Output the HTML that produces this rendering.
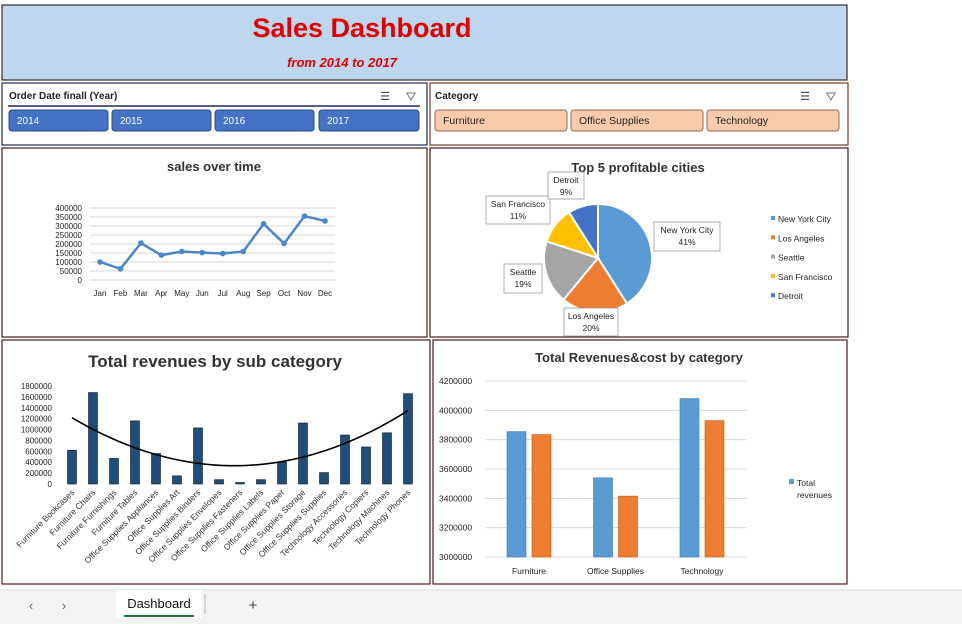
<!DOCTYPE html>
<html><head><meta charset="utf-8"><style>
html,body{margin:0;padding:0;background:#fff;}
svg{display:block;font-family:"Liberation Sans",sans-serif;}
</style></head><body>
<svg id="dash" width="962" height="624" viewBox="0 0 962 624" xmlns="http://www.w3.org/2000/svg">
<rect x="0" y="0" width="962" height="624" fill="#fff"/>
<!-- header -->
<g>
<rect x="2" y="5" width="845" height="75" fill="#BDD7EE" stroke="#3a2a2a" stroke-width="1.2"/>
<text x="362" y="37" text-anchor="middle" font-size="27" font-weight="bold" fill="#E00000">Sales Dashboard</text>
<text x="342" y="67" text-anchor="middle" font-size="13" font-weight="bold" font-style="italic" fill="#E00000">from 2014 to 2017</text>
</g>
<!-- year slicer -->
<g>
<rect x="2" y="83" width="425" height="62" fill="#fff" stroke="#1f2a5a" stroke-width="1.2"/>
<text x="9" y="99" font-size="10" font-weight="bold" fill="#222">Order Date finall (Year)</text>
<line x1="8" y1="106" x2="420" y2="106" stroke="#1f2a5a" stroke-width="1.5"/>
<text x="385" y="100" font-size="11" fill="#444" text-anchor="middle">☰</text>
<text x="411" y="101" font-size="13" fill="#777" text-anchor="middle">⛛</text>
<g><rect x="9" y="110" width="99" height="21" rx="3" fill="#4472C4" stroke="#2a4a8a"/><text x="17" y="124" font-size="10" fill="#fff">2014</text></g>
<g><rect x="112" y="110" width="99" height="21" rx="3" fill="#4472C4" stroke="#2a4a8a"/><text x="120" y="124" font-size="10" fill="#fff">2015</text></g>
<g><rect x="215" y="110" width="99" height="21" rx="3" fill="#4472C4" stroke="#2a4a8a"/><text x="223" y="124" font-size="10" fill="#fff">2016</text></g>
<g><rect x="319" y="110" width="100" height="21" rx="3" fill="#4472C4" stroke="#2a4a8a"/><text x="327" y="124" font-size="10" fill="#fff">2017</text></g>
</g>
<!-- category slicer -->
<g>
<rect x="430" y="83" width="418" height="62" fill="#fff" stroke="#7a3a1a" stroke-width="1.2"/>
<text x="435" y="99" font-size="10" font-weight="bold" fill="#222">Category</text>
<text x="805" y="100" font-size="11" fill="#444" text-anchor="middle">☰</text>
<text x="831" y="101" font-size="13" fill="#777" text-anchor="middle">⛛</text>
<g><rect x="435" y="110" width="132" height="21" rx="3" fill="#F8CBAD" stroke="#8a6a5a"/><text x="443" y="124" font-size="10.5" fill="#222">Furniture</text></g>
<g><rect x="571" y="110" width="132" height="21" rx="3" fill="#F8CBAD" stroke="#8a6a5a"/><text x="579" y="124" font-size="10.5" fill="#222">Office Supplies</text></g>
<g><rect x="707" y="110" width="132" height="21" rx="3" fill="#F8CBAD" stroke="#8a6a5a"/><text x="715" y="124" font-size="10.5" fill="#222">Technology</text></g>
</g>
<!-- panels -->
<rect x="2" y="148" width="425" height="189" fill="#fff" stroke="#4a1a1a" stroke-width="1.2"/>
<rect x="430" y="148" width="418" height="189" fill="#fff" stroke="#4a1a1a" stroke-width="1.2"/>
<rect x="2" y="340" width="428" height="244" fill="#fff" stroke="#4a1a1a" stroke-width="1.2"/>
<rect x="433" y="340" width="414" height="244" fill="#fff" stroke="#4a1a1a" stroke-width="1.2"/>
<text x="214" y="171" text-anchor="middle" font-size="13" font-weight="bold" fill="#333">sales over time</text>
<text x="638" y="172" text-anchor="middle" font-size="13" font-weight="bold" fill="#333">Top 5 profitable cities</text>
<text x="215" y="367" text-anchor="middle" font-size="17" font-weight="bold" fill="#333">Total revenues by sub category</text>
<text x="639" y="362" text-anchor="middle" font-size="13" font-weight="bold" fill="#333">Total Revenues&amp;cost by category</text>
<g id="lineChart"></g><g id="pieChart"></g><g id="barChart"></g><g id="catChart"></g>
<!-- tab bar -->
<g>
<rect x="0" y="590" width="962" height="34" fill="#f3f3f3"/>
<line x1="0" y1="590" x2="962" y2="590" stroke="#ddd"/>
<text x="31" y="610" font-size="13" fill="#666" text-anchor="middle">‹</text>
<text x="64" y="610" font-size="13" fill="#666" text-anchor="middle">›</text>
<g><rect x="116" y="590" width="86" height="28" fill="#fff"/><text x="159" y="608" font-size="13" fill="#111" text-anchor="middle">Dashboard</text><line x1="124" y1="616" x2="194" y2="616" stroke="#1a7a3a" stroke-width="2"/></g>
<line x1="205" y1="594" x2="205" y2="614" stroke="#bbb"/>
<text x="253" y="610" font-size="15" fill="#444" text-anchor="middle">+</text>
</g>
</svg>
<script>
const NS="http://www.w3.org/2000/svg";
const months=["Jan","Feb","Mar","Apr","May","Jun","Jul","Aug","Sep","Oct","Nov","Dec"];
const monthlySales=[100000,62000,205000,138000,158000,152000,147000,158000,312000,203000,355000,328000];
const lineTicks=[0,50000,100000,150000,200000,250000,300000,350000,400000];
const cities=["New York City","Los Angeles","Seattle","San Francisco","Detroit"];
const cityShare=[41,20,19,11,9];
const subCats=["Furniture Bookcases","Furniture Chairs","Furniture Furnishings","Furniture Tables","Office Supplies Appliances","Office Supplies Art","Office Supplies Binders","Office Supplies Envelopes","Office Supplies Fasteners","Office Supplies Labels","Office Supplies Paper","Office Supplies Storage","Office Supplies Supplies","Technology Accessories","Technology Copiers","Technology Machines","Technology Phones"];
const subRevenue=[620000,1680000,470000,1160000,560000,150000,1030000,80000,20000,80000,400000,1120000,210000,900000,680000,940000,1660000];
const subTicks=[0,200000,400000,600000,800000,1000000,1200000,1400000,1600000,1800000];
const categories=["Furniture","Office Supplies","Technology"];
const catRevenue=[3855000,3540000,4080000];
const catCost=[3835000,3415000,3930000];
const catTicks=[3000000,3200000,3400000,3600000,3800000,4000000,4200000];

function mk(tag,attrs,parent,txt){const e=document.createElementNS(NS,tag);for(const k in attrs)e.setAttribute(k,attrs[k]);if(txt!==undefined)e.textContent=txt;parent.appendChild(e);return e;}

// line chart
(function(){
const g=document.getElementById('lineChart');
const yL=v=>280-v/400000*72, xL=i=>100+i*(225/11);
lineTicks.forEach(t=>{mk('line',{x1:90,x2:335,y1:yL(t),y2:yL(t),stroke:'#c8c8c8','stroke-width':0.8},g);
const tx=mk('text',{x:82,y:yL(t)+3,'font-size':8,'text-anchor':'end',fill:'#222'},g,String(t));
});
months.forEach((m,i)=>{const tx=mk('text',{x:xL(i),y:296,'font-size':8,'text-anchor':'middle',fill:'#222'},g,m);
});
const pts=monthlySales.map((v,i)=>xL(i)+','+yL(v)).join(' ');
const pl=mk('polyline',{points:pts,fill:'none',stroke:'#4a86c8','stroke-width':2.5},g);

monthlySales.forEach((v,i)=>{const c=mk('circle',{cx:xL(i),cy:yL(v),r:2.8,fill:'#4a86c8'},g);
});
})();

// pie
(function(){
const g=document.getElementById('pieChart');
const cx=598,cy=258,r=54,colors=['#5B9BD5','#ED7D31','#A5A5A5','#FFC000','#4472C4'];
const total=cityShare.reduce((a,b)=>a+b,0);let a0=-Math.PI/2;
const boxes=[[654,222,66,29],[564,308,54,28],[504,264,38,29],[486,196,64,28],[548,172,36,27]];
cityShare.forEach((v,i)=>{const a1=a0+v/total*2*Math.PI;
const p=`M${cx},${cy} L${cx+r*Math.cos(a0)},${cy+r*Math.sin(a0)} A${r},${r} 0 ${a1-a0>Math.PI?1:0} 1 ${cx+r*Math.cos(a1)},${cy+r*Math.sin(a1)} Z`;
const s=mk('path',{d:p,fill:colors[i],stroke:'#fff','stroke-width':2},g);

const b=boxes[i];
const bx=mk('g',{},g);
mk('rect',{x:b[0],y:b[1],width:b[2],height:b[3],fill:'#fff',stroke:'#999','stroke-width':0.8},bx);
mk('text',{x:b[0]+b[2]/2,y:b[1]+11,'font-size':8.5,'text-anchor':'middle',fill:'#222'},bx,cities[i]);
mk('text',{x:b[0]+b[2]/2,y:b[1]+23,'font-size':8.5,'text-anchor':'middle',fill:'#222'},bx,v+'%');
const lg=mk('g',{},g);
mk('rect',{x:771,y:216+i*19.3,width:4,height:4,fill:colors[i]},lg);
mk('text',{x:778,y:222+i*19.3,'font-size':8.5,fill:'#222'},lg,cities[i]);
a0=a1;});
})();

// subcategory bar chart
(function(){
const g=document.getElementById('barChart');
const yB=v=>484-v/1800000*98, xB=i=>72+i*21;
subTicks.forEach(t=>{const tx=mk('text',{x:52,y:yB(t)+3,'font-size':8,'text-anchor':'end',fill:'#222'},g,String(t));
});
subRevenue.forEach((v,i)=>{const h=Math.max(484-yB(v),1.5);
const b=mk('rect',{x:xB(i)-4.5,y:484-h,width:9,height:h,fill:'#1F4E79',stroke:'#0a1a33','stroke-width':0.6},g);

const tx=mk('text',{x:xB(i)+3,y:493,'font-size':8.5,'text-anchor':'end',fill:'#333',transform:`rotate(-45 ${xB(i)+3} 493)`},g,subCats[i]);
});
// quadratic least squares trendline
const n=subRevenue.length;let S=[0,0,0,0,0],T=[0,0,0];
subRevenue.forEach((y,x)=>{for(let k=0;k<5;k++)S[k]+=Math.pow(x,k);for(let k=0;k<3;k++)T[k]+=y*Math.pow(x,k);});
const M=[[S[0],S[1],S[2],T[0]],[S[1],S[2],S[3],T[1]],[S[2],S[3],S[4],T[2]]];
for(let i=0;i<3;i++){for(let j=i+1;j<3;j++){const f=M[j][i]/M[i][i];for(let k=i;k<4;k++)M[j][k]-=f*M[i][k];}}
const c=[0,0,0];for(let i=2;i>=0;i--){let s=M[i][3];for(let k=i+1;k<3;k++)s-=M[i][k]*c[k];c[i]=s/M[i][i];}
let d='';for(let x=0;x<=n-1;x+=0.25){const y=c[0]+c[1]*x+c[2]*x*x;d+=(d?'L':'M')+xB(x)+','+yB(y);}
const tl=mk('path',{d:d,fill:'none',stroke:'#000','stroke-width':1.6},g);

})();

// category revenue vs cost
(function(){
const g=document.getElementById('catChart');
const yC=v=>557-(v-3000000)/1200000*176, xC=i=>530+i*86.5;
catTicks.forEach(t=>{mk('line',{x1:485,x2:747,y1:yC(t),y2:yC(t),stroke:'#d0d0d0','stroke-width':0.8},g);
const tx=mk('text',{x:439,y:yC(t)+3,'font-size':8.5,fill:'#222'},g,String(t));
});
categories.forEach((c,i)=>{
const b1=mk('rect',{x:xC(i)-23,y:yC(catRevenue[i]),width:19,height:557-yC(catRevenue[i]),fill:'#5B9BD5',stroke:'#3a78b5','stroke-width':0.6},g);

const b2=mk('rect',{x:xC(i)+2,y:yC(catCost[i]),width:19,height:557-yC(catCost[i]),fill:'#ED7D31',stroke:'#c55a11','stroke-width':0.6},g);

const tx=mk('text',{x:xC(i)-1,y:574,'font-size':8.5,'text-anchor':'middle',fill:'#222'},g,c);
});
const lg=mk('g',{},g);
mk('rect',{x:789,y:479,width:5,height:5,fill:'#5B9BD5'},lg);
mk('text',{x:797,y:486,'font-size':8.5,fill:'#222'},lg,'Total');
mk('text',{x:797,y:498,'font-size':8.5,fill:'#222'},lg,'revenues');
})();
</script>
</body></html>
